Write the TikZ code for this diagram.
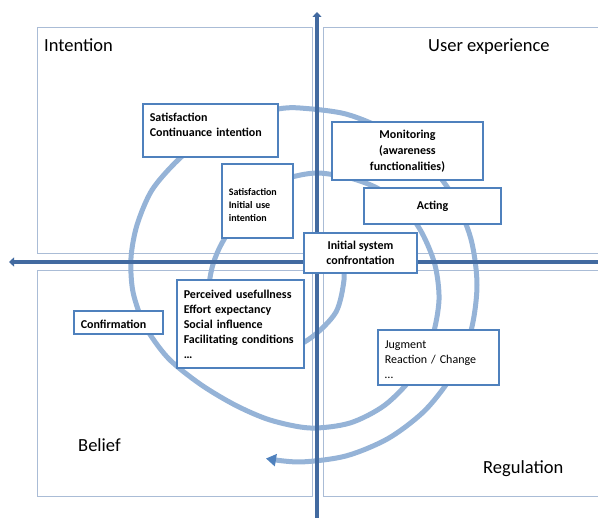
\documentclass[tikz,border=0pt]{standalone}
\usepackage{fontspec}
\setmainfont{Carlito}
\usetikzlibrary{arrows.meta}

\definecolor{azulcaja}{RGB}{79,129,189}
\definecolor{azulclaro}{RGB}{149,179,215}
\definecolor{azuleje}{RGB}{66,106,160}
\definecolor{grismarco}{RGB}{170,188,214}

\tikzstyle{caja}= [rectangle,draw=azulcaja,fill=white,line width=1.6pt,inner xsep=7pt,inner ysep=5pt,font=\bfseries\fontsize{12}{15}\selectfont]
\tikzstyle{cajaizq}= [caja,anchor=north west,align=left]
\tikzstyle{cajacen}= [caja,align=center]
\tikzstyle{marco}= [draw=grismarco,line width=1pt]
\tikzstyle{eje}= [draw=azuleje,line width=4pt,-{Triangle[length=5pt,width=9pt]}]
\tikzstyle{espiral}= [draw=azulclaro,line width=5pt]
\tikzstyle{rotulo}= [anchor=base west,inner sep=0pt,font=\fontsize{18.5}{22}\selectfont]

\begin{document}
\begin{tikzpicture}[x=1pt,y=-1pt]
		\useasboundingbox (0,0) rectangle (598,518);

		\draw[marco] (37,28) rectangle (312,254);
		\draw[marco] (598,28) -- (323,28) -- (323,254) -- (598,254);
		\draw[marco] (37,271) rectangle (312,497);
		\draw[marco] (598,271) -- (323,271) -- (323,497) -- (598,497);

		\draw[espiral,-{Triangle[length=10pt,width=12pt,color=azulcaja]}] plot[smooth] coordinates {
			(343,255) (344,280) (336,312) (312,337) (282,352) (245,350) (218,325) (209,295)
			(212,268) (222,243) (245,208) (270,186) (292,177) (318,173) (350,178) (377,188)
			(403,206) (422,233) (435,265) (439,300) (432,338) (414,375) (385,405) (350,423)
			(310,428) (270,420) (235,405) (200,384) (168,358) (145,326) (133,292) (131,258)
			(137,225) (152,190) (178,160) (210,134) (245,117) (278,109) (300,108) (345.8,114)
			(388.5,131.7) (425.2,159.8) (453.3,196.5) (471,239.2) (477,285) (471,330.8)
			(453.3,373.5) (425.2,410.2) (388.5,438.3) (345.8,456) (300,462) (266,458.5)};

		\draw[eje] (317,518) -- (317,12);
		\draw[eje] (598,262) -- (9,262);

		\node (intencion) at (44,52) [rotulo] {Intention};
		\node (experiencia) at (428,52) [rotulo] {User experience};
		\node (creencia) at (78,452) [rotulo] {Belief};
		\node (regulacion) at (483,474) [rotulo] {Regulation};

		\node (satcont) at (142,103) [cajaizq,text width=121pt,text height=13pt,text depth=30pt] {Satisfaction\\Continuance intention};
		\node (satini) at (221,163) [cajaizq,text width=57pt,text height=27pt,text depth=37pt,font=\bfseries\fontsize{10}{13}\selectfont] {Satisfaction\\Initial use\\intention};
		\node (monitor) at (407.5,151) [cajacen,minimum width=151pt,minimum height=58pt,font=\bfseries\fontsize{12}{16}\selectfont] {Monitoring\\(awareness\\functionalities)};
		\node (actuar) at (432.5,206) [cajacen,minimum width=137pt,minimum height=36pt] {Acting};
		\node (confront) at (360.5,253) [cajacen,minimum width=113pt,minimum height=40pt] {Initial system\\confrontation};
		\node (percib) at (176,279) [cajaizq,text width=113pt,text height=14pt,text depth=64pt] {Perceived usefullness\\Effort expectancy\\Social influence\\Facilitating conditions\\…};
		\node (confirm) at (73,310) [cajaizq,text width=75pt,text height=13pt,text depth=0pt] {Confirmation};
		\node (juicio) at (377,329) [cajaizq,text width=107pt,text height=14pt,text depth=31pt,font=\fontsize{12}{15}\selectfont] {Jugment\\Reaction / Change\\…};

	\end{tikzpicture}
\end{document}
